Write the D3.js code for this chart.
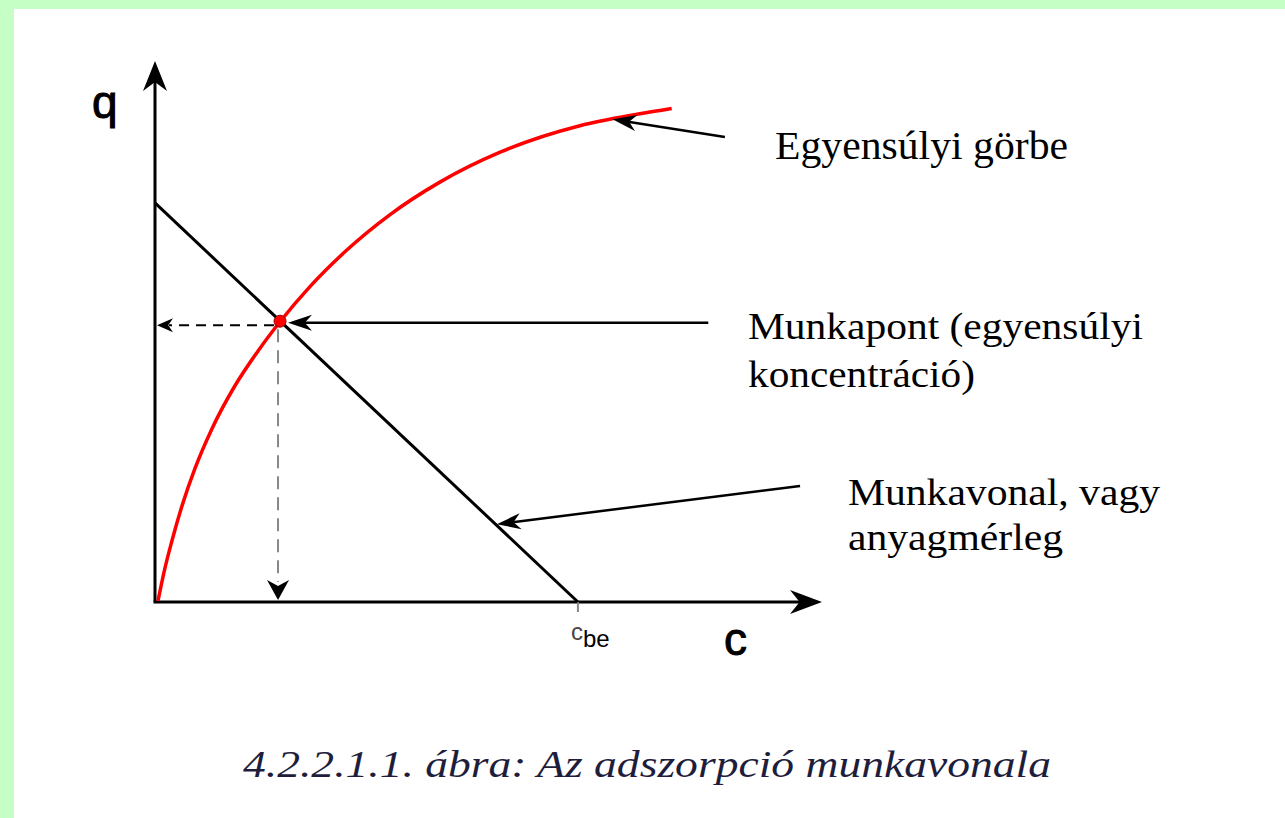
<!DOCTYPE html>
<html>
<head>
<meta charset="utf-8">
<script src="https://cdn.jsdelivr.net/npm/d3@7"></script>
<style>
  body { margin: 0; background: #c6ffc6; }
  svg { display: block; }
</style>
</head>
<body>
<svg id="chart" width="1285" height="818"></svg>
<script>
// egyensúlyi görbe (c, q)
const curveC = [0.045, 0.135, 0.256, 0.406, 0.60, 0.857, 1.20, 1.55, 1.88, 2.33, 2.86, 3.53, 4.29, 5.19, 6.39, 7.29, 7.77];
const curveQ = [0.02, 0.55, 1.14, 1.78, 2.47, 3.21, 4.00, 4.65, 5.19, 5.84, 6.49, 7.17, 7.78, 8.33, 8.82, 9.04, 9.14];

// munkavonal
const lineC = [0, 6.36];
const lineQ = [7.39, 0];

const workPoint = [1.88, 5.2];
const cBe = 6.36;

// annotációk: [kezdő c, kezdő q, vég c, vég q]
const arrowEq = [8.57, 8.61, 6.88, 8.94];
const arrowWork = [8.32, 5.17, 2.0, 5.17];
const arrowLine = [9.70, 2.15, 5.14, 1.44];

const labelsEq = ["Egyensúlyi görbe"];
const labelsPoint = ["Munkapont (egyensúlyi", "koncentráció)"];
const labelsLine = ["Munkavonal, vagy", "anyagmérleg"];
const caption = "4.2.2.1.1. ábra: Az adszorpció munkavonala";

const svg = d3.select("#chart");

// keret
svg.append("rect").attr("width", 1285).attr("height", 818).attr("fill", "#c6ffc6");
svg.append("rect").attr("x", 14).attr("y", 9).attr("width", 1271).attr("height", 809).attr("fill", "#fff");

const x = d3.scaleLinear().domain([0, 10]).range([155, 820]);
const y = d3.scaleLinear().domain([0, 10]).range([602, 62]);

// nyílhegy rajzolása
function arrowHead(g, tx, ty, angle, len, wid, color) {
  const pts = [[0, 0], [-len, -wid / 2], [-len * 0.7, 0], [-len, wid / 2]];
  g.append("path")
    .attr("d", "M" + pts.map((p) => p.join(",")).join("L") + "Z")
    .attr("transform", `translate(${tx},${ty}) rotate(${angle * 180 / Math.PI})`)
    .attr("fill", color);
}

const g = svg.append("g");

// tengelyek
g.append("line").attr("x1", x(0)).attr("y1", y(0)).attr("x2", x(0)).attr("y2", y(10) + 6)
  .attr("stroke", "#000").attr("stroke-width", 3);
arrowHead(g, x(0), y(10) - 1, -Math.PI / 2, 30, 24, "#000");
g.append("line").attr("x1", x(0) - 1.5).attr("y1", y(0)).attr("x2", x(10) - 6).attr("y2", y(0))
  .attr("stroke", "#000").attr("stroke-width", 3);
arrowHead(g, x(10) + 2, y(0), 0, 32, 24, "#000");

// c_be jelölés
g.append("line").attr("x1", x(cBe)).attr("x2", x(cBe)).attr("y1", y(0)).attr("y2", y(0) + 10)
  .attr("stroke", "#888").attr("stroke-width", 2);

// szaggatott vonalak
g.append("line").attr("x1", x(workPoint[0]) - 6).attr("y1", y(workPoint[1]) + 4)
  .attr("x2", x(0) + 14).attr("y2", y(workPoint[1]) + 4)
  .attr("stroke", "#000").attr("stroke-width", 2).attr("stroke-dasharray", "10,7");
arrowHead(g, x(0) + 2, y(workPoint[1]) + 4, Math.PI, 16, 14, "#000");
g.append("line").attr("x1", x(workPoint[0]) - 2).attr("y1", y(workPoint[1]) + 8)
  .attr("x2", x(workPoint[0]) - 2).attr("y2", y(0) - 20)
  .attr("stroke", "#888").attr("stroke-width", 2).attr("stroke-dasharray", "13,8");
arrowHead(g, x(workPoint[0]) - 2, y(0) - 2, Math.PI / 2, 20, 22, "#000");

// munkavonal
const lineData = lineC.map((c, i) => [c, lineQ[i]]);
g.append("path")
  .datum(lineData)
  .attr("d", d3.line().x((d) => x(d[0])).y((d) => y(d[1])))
  .attr("fill", "none").attr("stroke", "#000").attr("stroke-width", 3);

// egyensúlyi görbe
const curveData = curveC.map((c, i) => [c, curveQ[i]]);
g.append("path")
  .datum(curveData)
  .attr("d", d3.line().x((d) => x(d[0])).y((d) => y(d[1])).curve(d3.curveMonotoneX))
  .attr("fill", "none").attr("stroke", "#ff0000").attr("stroke-width", 3.5);

// munkapont
g.append("circle").attr("cx", x(workPoint[0])).attr("cy", y(workPoint[1]))
  .attr("r", 6).attr("fill", "#ff0000").attr("stroke", "#900").attr("stroke-width", 1);

// annotáció nyilak
[arrowEq, arrowWork, arrowLine].forEach((a) => {
  const x1 = x(a[0]), y1 = y(a[1]), x2 = x(a[2]), y2 = y(a[3]);
  const ang = Math.atan2(y2 - y1, x2 - x1);
  g.append("line").attr("x1", x1).attr("y1", y1)
    .attr("x2", x2 - Math.cos(ang) * 14).attr("y2", y2 - Math.sin(ang) * 14)
    .attr("stroke", "#000").attr("stroke-width", 2.5);
  arrowHead(g, x2, y2, ang, 24, 16, "#000");
});

// feliratok
const serif = "'Liberation Serif', 'DejaVu Serif', serif";
const sans = "'Liberation Sans', Arial, sans-serif";

g.append("text").attr("x", 92).attr("y", 118).text("q")
  .attr("font-family", sans).attr("font-size", 46).attr("stroke", "#000").attr("stroke-width", 1);
g.append("text").attr("x", 724).attr("y", 655).text("c")
  .attr("font-family", sans).attr("font-size", 46).attr("stroke", "#000").attr("stroke-width", 1);

const cbe = g.append("text").attr("x", 571).attr("y", 640)
  .attr("font-family", sans).attr("font-size", 24);
cbe.append("tspan").text("c").attr("fill", "#444");
cbe.append("tspan").text("be").attr("dy", 7);

const textStyle = (sel) => sel.attr("font-family", serif).attr("font-size", 37)
  .attr("fill", "#000").attr("lengthAdjust", "spacingAndGlyphs");

g.append("text").attr("x", 775).attr("y", 159).text(labelsEq[0])
  .attr("textLength", 293).call(textStyle).attr("font-size", 40);

const pointLens = [395, 227];
labelsPoint.forEach((t, i) => {
  g.append("text").attr("x", 748).attr("y", 339 + i * 48).text(t)
    .attr("textLength", pointLens[i]).call(textStyle);
});

const lineLens = [312, 215];
labelsLine.forEach((t, i) => {
  g.append("text").attr("x", 848).attr("y", 505 + i * 45).text(t)
    .attr("textLength", lineLens[i]).call(textStyle);
});

svg.append("text").attr("x", 243).attr("y", 777).text(caption)
  .attr("font-family", serif).attr("font-style", "italic").attr("font-size", 38)
  .attr("fill", "#1e1e3c").attr("textLength", 808).attr("lengthAdjust", "spacingAndGlyphs");
</script>
</body>
</html>
